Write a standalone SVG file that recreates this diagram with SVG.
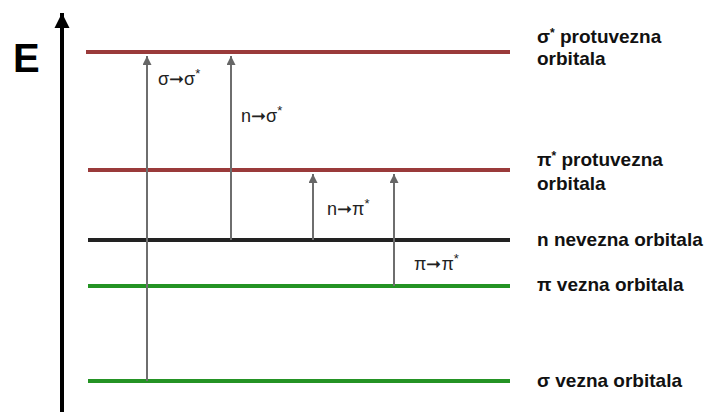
<svg xmlns="http://www.w3.org/2000/svg" width="709" height="412" viewBox="0 0 709 412">
<defs>
<marker id="ah" viewBox="0 0 10 10" refX="10" refY="5" markerWidth="10" markerHeight="9" markerUnits="userSpaceOnUse" orient="auto"><path d="M0,0 L10,5 L0,10 z" fill="#666"/></marker>
<marker id="axh" viewBox="0 0 10 10" refX="10" refY="5" markerWidth="15" markerHeight="16" markerUnits="userSpaceOnUse" orient="auto"><path d="M0,0 L10,5 L0,10 z" fill="#000"/></marker>
</defs>
<style>
.lvl{stroke-width:4;fill:none}
.red{stroke:#9a3a3a}
.grn{stroke:#249324}
.blk{stroke:#222}
.tr{stroke:#6e6e6e;stroke-width:2;fill:none}
.lab{font-family:"Liberation Sans",Arial,sans-serif;font-size:18px;fill:#222}
.side{font-family:"Liberation Sans",Arial,sans-serif;font-size:19px;font-weight:bold;fill:#111}
</style>
<rect width="709" height="412" fill="#fff"/>
<g id="axis">
<line x1="62" y1="412" x2="62" y2="13" stroke="#000" stroke-width="4" marker-end="url(#axh)"/>
<text x="13" y="72" font-family="Liberation Sans,Arial,sans-serif" font-size="40" font-weight="bold" fill="#000">E</text>
</g>
<g id="sigma-star">
<line class="lvl red" x1="86" y1="52" x2="510" y2="52"/>
<text class="side" x="537" y="43">σ<tspan font-size="12" dy="-6">*</tspan><tspan dy="6"> protuvezna</tspan></text>
<text class="side" x="537" y="65">orbitala</text>
</g>
<g id="pi-star">
<line class="lvl red" x1="88" y1="170" x2="510" y2="170"/>
<text class="side" x="537" y="166">π<tspan font-size="12" dy="-6">*</tspan><tspan dy="6"> protuvezna</tspan></text>
<text class="side" x="537" y="190">orbitala</text>
</g>
<g id="n-level">
<line class="lvl blk" x1="88" y1="240" x2="510" y2="240"/>
<text class="side" x="537" y="246">n nevezna orbitala</text>
</g>
<g id="pi-level">
<line class="lvl grn" x1="88" y1="286" x2="510" y2="286"/>
<text class="side" x="537" y="291">π vezna orbitala</text>
</g>
<g id="sigma-level">
<line class="lvl grn" x1="88" y1="381" x2="510" y2="381"/>
<text class="side" x="537" y="387">σ vezna orbitala</text>
</g>
<g id="connectors">
<line class="tr" x1="147" y1="381" x2="147" y2="56" marker-end="url(#ah)"/>
<line class="tr" x1="231" y1="240" x2="231" y2="56" marker-end="url(#ah)"/>
<line class="tr" x1="313" y1="240" x2="313" y2="174" marker-end="url(#ah)"/>
<line class="tr" x1="394" y1="286" x2="394" y2="174" marker-end="url(#ah)"/>
<text class="lab" x="158" y="85">σ➞σ<tspan font-size="13" dy="-7">*</tspan></text>
<text class="lab" x="241" y="122">n➞σ<tspan font-size="13" dy="-7">*</tspan></text>
<text class="lab" x="327" y="215">n➞π<tspan font-size="13" dy="-7">*</tspan></text>
<text class="lab" x="414" y="270">π➞π<tspan font-size="13" dy="-7">*</tspan></text>
</g>
</svg>
